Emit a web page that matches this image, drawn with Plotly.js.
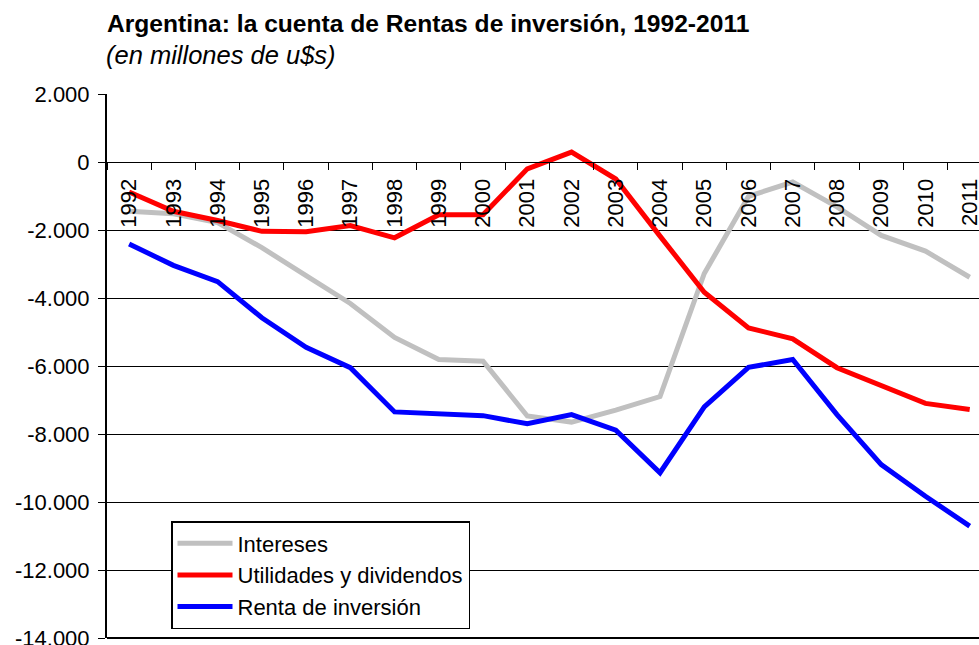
<!DOCTYPE html>
<html>
<head>
<meta charset="utf-8">
<script src="https://cdn.plot.ly/plotly-3.0.1.min.js"></script>
<style>
html,body{margin:0;padding:0;overflow:hidden;background:#fff;}
#chart{width:979px;height:645px;}
</style>
</head>
<body>
<div id="chart"></div>
<script>
var years = ["1992","1993","1994","1995","1996","1997","1998","1999","2000","2001","2002","2003","2004","2005","2006","2007","2008","2009","2010","2011"];
var intereses = [-1450,-1520,-1780,-2520,-3340,-4160,-5160,-5810,-5860,-7470,-7650,-7300,-6900,-3280,-1010,-590,-1320,-2160,-2620,-3390];
var utilidades = [-880,-1450,-1720,-2040,-2050,-1870,-2230,-1550,-1550,-200,290,-500,-2180,-3830,-4880,-5200,-6050,-6590,-7100,-7280];
var renta = [-2410,-3040,-3520,-4580,-5450,-6050,-7350,-7410,-7460,-7700,-7430,-7890,-9140,-7200,-6040,-5810,-7430,-8900,-9830,-10710];
var yTickVals = [2000,0,-2000,-4000,-6000,-8000,-10000,-12000,-14000];
var yTickText = ["2.000","0","-2.000","-4.000","-6.000","-8.000","-10.000","-12.000","-14.000"];
var seriesNames = ["Intereses","Utilidades y dividendos","Renta de inversión"];
var titleText = "Argentina: la cuenta de Rentas de inversión, 1992-2011";
var subtitleText = "(en millones de u$s)";

var FONT = "Arial, 'Liberation Sans', sans-serif";
function tr(y, name, color, g){
  return {x: years, y: y, name: name, type: "scatter", mode: "lines",
    line: {color: color, width: 5}, legendgroup: g, hoverinfo: "skip"};
}
var data = [
  tr(intereses, seriesNames[0], "#C0C0C0", "a"),
  tr(utilidades, seriesNames[1], "#FF0000", "b"),
  tr(renta, seriesNames[2], "#0000FF", "c")
];
var layout = {
  width: 979, height: 645,
  margin: {l: 107, r: 0, t: 94, b: 7, pad: 0},
  paper_bgcolor: "#fff", plot_bgcolor: "#fff",
  font: {family: FONT, color: "#000", size: 22},
  showlegend: true,
  title: {
    text: "<b>" + titleText + "</b>",
    font: {family: FONT, size: 24.6, color: "#000"},
    x: 107/979, xanchor: "left", xref: "container",
    y: 1 - 32/645, yanchor: "bottom", yref: "container"
  },
  annotations: [{
    text: "<i>" + subtitleText + "</i>",
    xref: "paper", yref: "paper", x: 0, y: (638-55)/544,
    xanchor: "left", yanchor: "middle", showarrow: false, xshift: -3,
    font: {family: FONT, size: 25.5, color: "#000"}
  }],
  shapes: [{
    type: "line", xref: "paper", yref: "paper", x0: 0, x1: 1, y0: 0, y1: 0,
    line: {color: "#000", width: 2}, layer: "above"
  }],
  xaxis: {
    type: "category", range: [-0.5, 19.21],
    anchor: "free", position: 0.875, side: "bottom",
    showline: true, linecolor: "#000", linewidth: 1,
    ticks: "outside", ticklen: 7, tickcolor: "#000", tickwidth: 1,
    tickson: "boundaries", tickangle: -90, ticklabelstandoff: 7,
    tickfont: {family: FONT, size: 22, color: "#000"},
    showgrid: false, zeroline: false, fixedrange: true
  },
  yaxis: {
    range: [-14000, 2000], tickvals: yTickVals, ticktext: yTickText,
    showgrid: true, gridcolor: "#000", gridwidth: 1,
    zeroline: false, showline: true, linecolor: "#000", linewidth: 2,
    ticks: "outside", ticklen: 7, tickcolor: "#000", tickwidth: 1,
    ticklabelstandoff: 4, ticklabeloverflow: "allow",
    tickfont: {family: FONT, size: 22, color: "#000"}, fixedrange: true
  },
  legend: {
    x: (171-107)/872, y: (638-521)/544, xanchor: "left", yanchor: "top",
    bgcolor: "#fff", bordercolor: "#000", borderwidth: 1.5,
    font: {family: FONT, size: 22, color: "#000"},
    traceorder: "normal", tracegroupgap: 4, itemwidth: 55
  }
};
Plotly.newPlot("chart", data, layout, {staticPlot: true, displayModeBar: false});
</script>
</body>
</html>
